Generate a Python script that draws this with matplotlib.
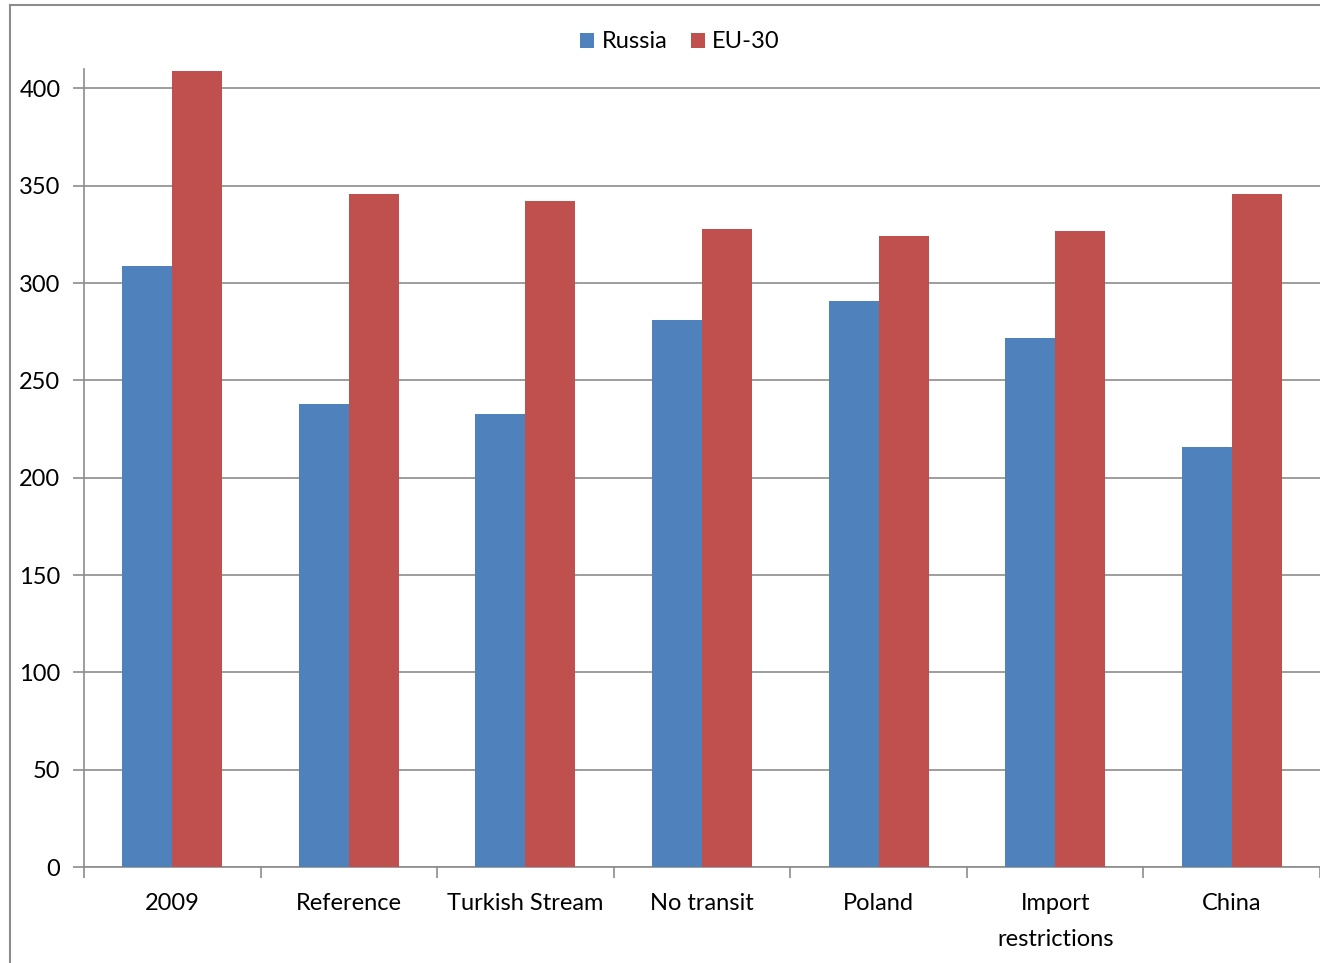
import numpy as np
import matplotlib.pyplot as plt
from matplotlib.lines import Line2D

scenarios = ['2009', 'Reference', 'Turkish Stream', 'No transit', 'Poland',
             'Import\nrestrictions', 'China']
russia = [309, 238, 233, 281, 291, 272, 216]
eu30 = [409, 346, 342, 328, 324, 327, 346]

plt.rcParams['font.family'] = ['Lato', 'DejaVu Sans']

fig = plt.figure(figsize=(13.2, 9.63), dpi=100)
ax = fig.add_axes([84 / 1320, 96 / 963, 1236 / 1320, 798 / 963])

x = np.arange(len(scenarios))
w = 0.283
ax.bar(x - w / 2, russia, w, color='#4F81BD', label='Russia', zorder=3)
ax.bar(x + w / 2, eu30, w, color='#C0504D', label='EU-30', zorder=3)

ax.set_xlim(-0.5, len(scenarios) - 0.5)
ax.set_ylim(0, 410)
ax.set_yticks(np.arange(0, 401, 50))
ax.yaxis.grid(True, color='#8c8c8c', linewidth=1.2, zorder=0)

ax.set_xticks(x)
ax.set_xticklabels(scenarios, fontsize=17, linespacing=1.85)
ax.set_xticks(np.arange(-0.5, len(scenarios)), minor=True)
ax.tick_params(axis='x', which='major', length=0, pad=19)
ax.tick_params(axis='x', which='minor', length=8, width=1.2, color='#8c8c8c')
ax.tick_params(axis='y', length=8, width=1.2, color='#8c8c8c', labelsize=17, pad=9)

for s in ['top', 'right']:
    ax.spines[s].set_visible(False)
for s in ['left', 'bottom']:
    ax.spines[s].set_color('#8c8c8c')
    ax.spines[s].set_linewidth(1.2)

fig.legend(loc='center', bbox_to_anchor=(680 / 1320, 1 - 42 / 963), ncol=2,
           frameon=False, fontsize=17, handlelength=0.6, handleheight=0.6,
           handletextpad=0.3, columnspacing=1.0)

# outer chart frame
fig.add_artist(Line2D([10 / 1320, 10 / 1320], [0, 1 - 5 / 963],
                      color='#8c8c8c', linewidth=1.5))
fig.add_artist(Line2D([10 / 1320, 1], [1 - 5 / 963, 1 - 5 / 963],
                      color='#8c8c8c', linewidth=1.5))

fig.savefig('out.png', dpi=100)
